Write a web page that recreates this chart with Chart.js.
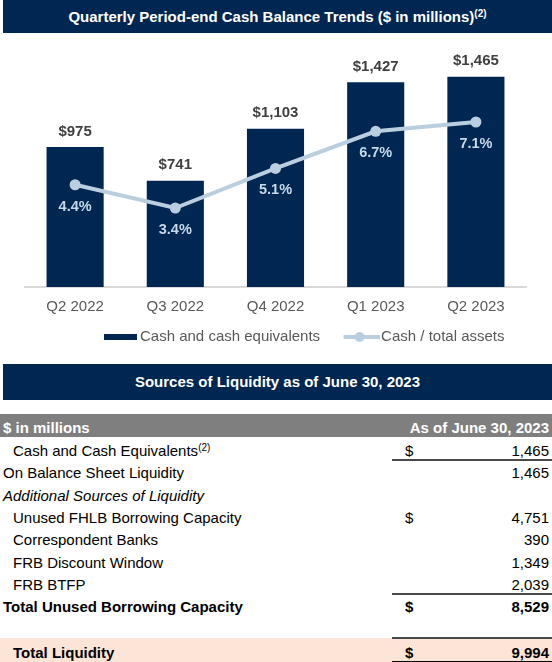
<!DOCTYPE html>
<html>
<head>
<meta charset="utf-8">
<script src="https://cdn.jsdelivr.net/npm/chart.js@4.4.0/dist/chart.umd.min.js"></script>
<style>
  body { margin: 0; width: 552px; height: 662px; position: relative; overflow: hidden; background: #fff;
         font-family: "Liberation Sans", Arial, sans-serif; }
  .band { position: absolute; left: 3px; right: 0; background: #002652; color: #fff; font-weight: bold;
          font-size: 15px; text-align: center; }
  .band sup, .row sup { font-size: 10px; vertical-align: 5px; line-height: 0; }
  #title1 { top: 0; height: 33px; line-height: 33px; }
  #title2 { top: 364px; height: 36px; line-height: 36px; }
  #chartBox { position: absolute; left: 0; top: 33px; width: 552px; height: 322px; }
  #liquidity { position: absolute; left: 0; top: 0; width: 552px; font-size: 15px; color: #000; }
  .row { position: absolute; left: 0; width: 552px; height: 22.35px; line-height: 22px; white-space: nowrap; }
  .row .label { position: absolute; left: 3px; }
  .row.indent .label, .row.total .label { left: 13px; }
  .row.italic .label { font-style: italic; }
  .row.bold, .row.total { font-weight: bold; }
  .row.total { background: #fce4d6; height: 25px; }
  .row.total .label, .row.total .sign, .row.total .value { top: 4px; }
  .row.head { background: #7f7f7f; color: #fff; font-weight: bold; height: 23px; line-height: 27px; }
  .row .sign { position: absolute; left: 405px; }
  .row .value { position: absolute; right: 3px; }
  .rule { position: absolute; left: 392px; right: 0; height: 2px; background: #4a4a4a; }
</style>
</head>
<body>
<div class="band" id="title1">Quarterly Period-end Cash Balance Trends ($ in millions)<sup>(2)</sup></div>
<div id="chartBox"><canvas id="chart"></canvas></div>
<div class="band" id="title2">Sources of Liquidity as of June 30, 2023</div>
<div id="liquidity"></div>
<script>
const quarters = ["Q2 2022", "Q3 2022", "Q4 2022", "Q1 2023", "Q2 2023"];
const cashBalances = [975, 741, 1103, 1427, 1465];
const cashToAssets = [4.4, 3.4, 5.1, 6.7, 7.1];
const seriesNames = ["Cash and cash equivalents", "Cash / total assets"];

const rowLabels = ["Cash and Cash Equivalents", "On Balance Sheet Liquidity", "Additional Sources of Liquidity",
  "Unused FHLB Borrowing Capacity", "Correspondent Banks", "FRB Discount Window", "FRB BTFP",
  "Total Unused Borrowing Capacity", "Total Liquidity"];
const rowValues = [1465, 1465, null, 4751, 390, 1349, 2039, 8529, 9994];
const rowDollar = [true, false, false, true, false, false, false, true, true];
const rowNotes = ["(2)", "", "", "", "", "", "", "", ""];
const rowKinds = ["indent", "plain", "italic", "indent", "indent", "indent", "indent", "bold", "total"];
const rowUnderlined = [true, false, false, false, false, false, true, false, false];

const NAVY = "#002652";
const LIGHT = "#b9cfe0";
const FONT = '"Liberation Sans", Arial, sans-serif';

// ---- table ----
const table = document.getElementById("liquidity");
const fmt = v => v.toLocaleString("en-US");

function addRow(cls, top, html) {
  const row = document.createElement("div");
  row.className = "row " + cls;
  row.style.top = top + "px";
  row.innerHTML = html;
  table.appendChild(row);
  return row;
}

addRow("head", 414, '<span class="label">$ in millions</span><span class="value">As of June 30, 2023</span>');

rowLabels.forEach((label, i) => {
  const top = rowKinds[i] === "total" ? 637.5 : 440 + 22.35 * i;
  let html = `<span class="label">${label}${rowNotes[i] ? "<sup>" + rowNotes[i] + "</sup>" : ""}</span>`;
  if (rowDollar[i]) html += '<span class="sign">$</span>';
  if (rowValues[i] !== null) html += `<span class="value">${fmt(rowValues[i])}</span>`;
  if (rowUnderlined[i]) html += '<div class="rule" style="top:19px"></div>';
  if (rowKinds[i] === "total") html += '<div class="rule" style="top:-1px"></div><div class="rule" style="top:23px;height:1px;background:#000"></div>';
  addRow(rowKinds[i], top, html);
});

// ---- chart ----
Chart.defaults.font.family = FONT;

function legendIcon(w, h, draw) {
  const c = document.createElement("canvas");
  c.width = w;
  c.height = h;
  draw(c.getContext("2d"));
  return c;
}

const barIcon = legendIcon(49, 6, ctx => {
  ctx.fillStyle = NAVY;
  ctx.fillRect(16, 0, 33, 6);
});

const lineIcon = legendIcon(52, 12, ctx => {
  ctx.strokeStyle = LIGHT;
  ctx.lineWidth = 4;
  ctx.beginPath();
  ctx.moveTo(16, 6);
  ctx.lineTo(52, 6);
  ctx.stroke();
  ctx.fillStyle = LIGHT;
  ctx.beginPath();
  ctx.arc(32, 6, 5, 0, Math.PI * 2);
  ctx.fill();
});

// legend sits a little right of centre in the original
const legendShift = {
  id: "legendShift",
  afterLayout(chart) {
    const lg = chart.legend;
    const w = lg.right - lg.left;
    lg.left = 79;
    lg.right = lg.left + w;
  }
};

const valueLabels = {
  id: "valueLabels",
  afterDatasetsDraw(chart) {
    const ctx = chart.ctx;
    ctx.save();
    ctx.textAlign = "center";
    ctx.textBaseline = "middle";
    ctx.font = `bold 15px ${FONT}`;
    ctx.fillStyle = "#404040";
    chart.getDatasetMeta(0).data.forEach((bar, i) => {
      ctx.fillText("$" + fmt(cashBalances[i]), bar.x, bar.y - 15.5);
    });
    ctx.font = `bold 14.5px ${FONT}`;
    ctx.fillStyle = "#c6d9ea";
    chart.getDatasetMeta(1).data.forEach((pt, i) => {
      ctx.fillText(cashToAssets[i].toFixed(1) + "%", pt.x, pt.y + 22);
    });
    ctx.restore();
  }
};

new Chart(document.getElementById("chart"), {
  data: {
    labels: quarters,
    datasets: [
      {
        type: "bar",
        label: seriesNames[0],
        data: cashBalances,
        backgroundColor: NAVY,
        barPercentage: 0.57,
        categoryPercentage: 1,
        yAxisID: "y",
        order: 1
      },
      {
        type: "line",
        label: seriesNames[1],
        data: cashToAssets,
        borderColor: LIGHT,
        backgroundColor: LIGHT,
        borderWidth: 4,
        pointRadius: 5.5,
        pointBorderWidth: 0,
        pointBackgroundColor: LIGHT,
        yAxisID: "y2",
        order: 0
      }
    ]
  },
  options: {
    responsive: true,
    maintainAspectRatio: false,
    animation: false,
    layout: { padding: { left: 25, right: 26, top: 24.4, bottom: 0.5 } },
    scales: {
      x: {
        grid: { display: false, drawTicks: false },
        border: { color: "#d9d9d9", width: 2 },
        ticks: { color: "#595959", font: { size: 15 }, padding: 11 },
        afterFit(scale) { scale.height = 29 }
      },
      y: { display: false, min: 0, max: 1600 },
      y2: { display: false, min: 0, max: 9.88 }
    },
    plugins: {
      tooltip: { enabled: false },
      legend: {
        position: "bottom",
        align: "start",
        labels: {
          usePointStyle: true,
          pointStyleWidth: 40,
          padding: 13.5,
          color: "#595959",
          font: { size: 15 },
          sort: (a, b) => a.datasetIndex - b.datasetIndex,
          generateLabels(chart) {
            const items = Chart.defaults.plugins.legend.labels.generateLabels(chart);
            items.forEach(it => { it.pointStyle = it.datasetIndex === 0 ? barIcon : lineIcon });
            return items;
          }
        }
      }
    }
  },
  plugins: [legendShift, valueLabels]
});
</script>
</body>
</html>
